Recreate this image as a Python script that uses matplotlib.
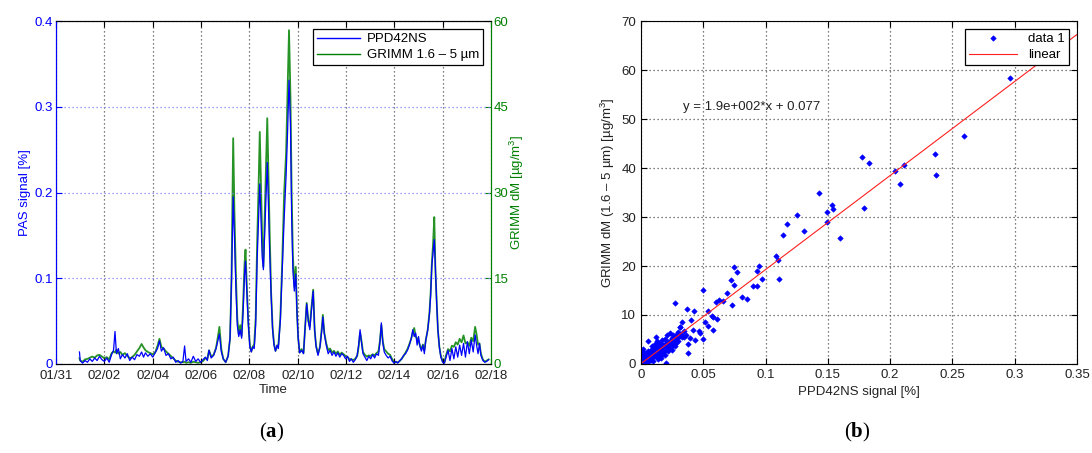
import numpy as np
import matplotlib
matplotlib.use("Agg")
import matplotlib.pyplot as plt
from matplotlib.lines import Line2D

plt.rcParams['font.family'] = ['Liberation Sans', 'DejaVu Sans']
plt.rcParams['mathtext.fontset'] = 'custom'
plt.rcParams['mathtext.rm'] = 'Liberation Sans'
plt.rcParams['mathtext.it'] = 'Liberation Sans:italic'
plt.rcParams['mathtext.bf'] = 'Liberation Serif:bold'

# ── Data: time series (days since 01/31 00:00) ─────────────────────────────
days = [0.97, 1.00, 1.10, 1.20, 1.30, 1.40, 1.50, 1.60, 1.70, 1.80, 1.90, 2.00,
        2.10, 2.20, 2.30, 2.38, 2.44, 2.50, 2.58, 2.66, 2.75, 2.85, 2.95, 3.05,
        3.15, 3.25, 3.35, 3.45, 3.54, 3.62, 3.70, 3.80, 3.90, 4.00, 4.10, 4.20,
        4.28, 4.36, 4.45, 4.55, 4.65, 4.75, 4.85, 4.95, 5.05, 5.15, 5.25, 5.32,
        5.38, 5.48, 5.58, 5.68, 5.78, 5.88, 5.98, 6.08, 6.18, 6.26, 6.33, 6.42,
        6.52, 6.62, 6.70, 6.76, 6.84, 6.92, 7.02, 7.12, 7.20, 7.26, 7.33, 7.38,
        7.44, 7.50, 7.56, 7.62, 7.68, 7.74, 7.80, 7.84, 7.90, 7.96, 8.02, 8.08,
        8.14, 8.20, 8.26, 8.32, 8.38, 8.43, 8.48, 8.53, 8.58, 8.63, 8.68, 8.74,
        8.79, 8.84, 8.90, 8.96, 9.02, 9.08, 9.14, 9.20, 9.28, 9.36, 9.44, 9.52,
        9.58, 9.64, 9.70, 9.75, 9.80, 9.86, 9.92, 9.97, 10.02, 10.08, 10.16, 10.24,
        10.30, 10.37, 10.44, 10.50, 10.56, 10.64, 10.70, 10.76, 10.84, 10.92, 11.00, 11.04,
        11.10, 11.18, 11.26, 11.34, 11.42, 11.50, 11.58, 11.66, 11.74, 11.82, 11.90, 11.98,
        12.06, 12.14, 12.22, 12.30, 12.38, 12.46, 12.52, 12.58, 12.64, 12.70, 12.78, 12.86,
        12.94, 13.02, 13.10, 13.18, 13.26, 13.34, 13.40, 13.46, 13.52, 13.58, 13.66, 13.74,
        13.82, 13.90, 13.98, 14.06, 14.14, 14.22, 14.30, 14.38, 14.46, 14.54, 14.62, 14.70,
        14.76, 14.82, 14.88, 14.94, 15.00, 15.06, 15.12, 15.18, 15.24, 15.30, 15.38, 15.45,
        15.50, 15.55, 15.60, 15.65, 15.70, 15.75, 15.80, 15.86, 15.92, 16.00, 16.07, 16.14,
        16.22, 16.30, 16.38, 16.46, 16.54, 16.62, 16.70, 16.78, 16.86, 16.94, 17.02, 17.10,
        17.18, 17.26, 17.34, 17.40, 17.46, 17.52, 17.58, 17.66, 17.74, 17.82, 17.90]

pas = [0.014, 0.004, 0.001, 0.004, 0.002, 0.006, 0.003, 0.007, 0.004, 0.009, 0.005, 0.003,
       0.007, 0.002, 0.011, 0.016, 0.038, 0.012, 0.018, 0.006, 0.011, 0.007, 0.012, 0.004,
       0.008, 0.005, 0.011, 0.009, 0.014, 0.008, 0.013, 0.009, 0.012, 0.008, 0.013, 0.018,
       0.027, 0.015, 0.019, 0.010, 0.012, 0.006, 0.008, 0.002, 0.004, 0.001, 0.003, 0.021,
       0.003, 0.006, 0.002, 0.009, 0.003, 0.006, 0.002, 0.005, 0.008, 0.004, 0.016, 0.007,
       0.010, 0.018, 0.028, 0.035, 0.014, 0.006, 0.002, 0.009, 0.030, 0.098, 0.195, 0.150,
       0.090, 0.045, 0.032, 0.040, 0.030, 0.060, 0.105, 0.120, 0.080, 0.045, 0.020, 0.014,
       0.020, 0.018, 0.045, 0.120, 0.170, 0.210, 0.170, 0.125, 0.110, 0.150, 0.190, 0.235,
       0.180, 0.130, 0.080, 0.040, 0.022, 0.015, 0.022, 0.018, 0.050, 0.110, 0.170, 0.220,
       0.270, 0.331, 0.280, 0.170, 0.110, 0.085, 0.105, 0.060, 0.030, 0.013, 0.016, 0.012,
       0.040, 0.070, 0.050, 0.040, 0.060, 0.085, 0.040, 0.020, 0.010, 0.020, 0.040, 0.055,
       0.035, 0.022, 0.012, 0.016, 0.010, 0.014, 0.009, 0.013, 0.008, 0.012, 0.010, 0.006,
       0.009, 0.003, 0.006, 0.002, 0.005, 0.010, 0.022, 0.040, 0.025, 0.012, 0.008, 0.004,
       0.009, 0.006, 0.011, 0.007, 0.012, 0.010, 0.025, 0.048, 0.025, 0.014, 0.010, 0.007,
       0.009, 0.004, 0.001, 0.003, 0.001, 0.004, 0.006, 0.010, 0.012, 0.016, 0.022, 0.030,
       0.040, 0.032, 0.036, 0.022, 0.032, 0.020, 0.015, 0.022, 0.012, 0.028, 0.040, 0.058,
       0.080, 0.115, 0.130, 0.145, 0.110, 0.070, 0.040, 0.020, 0.008, 0.002, 0.001, 0.008,
       0.016, 0.004, 0.018, 0.006, 0.020, 0.008, 0.022, 0.010, 0.024, 0.008, 0.026, 0.012,
       0.028, 0.014, 0.034, 0.022, 0.012, 0.024, 0.010, 0.004, 0.002, 0.003, 0.005]

grimm = [1.0, 0.6, 0.4, 0.8, 0.9, 1.1, 1.3, 1.1, 1.5, 1.6, 1.3, 1.0,
         1.2, 0.8, 1.9, 2.2, 2.0, 2.5, 1.8, 2.1, 1.6, 1.9, 1.4, 1.0,
         1.2, 1.6, 2.2, 2.8, 3.5, 2.9, 2.4, 2.1, 1.9, 1.7, 2.0, 3.2,
         4.4, 3.0, 2.7, 2.2, 1.8, 1.4, 1.0, 0.6, 0.4, 0.3, 0.3, 0.4,
         0.2, 0.3, 0.2, 0.4, 0.3, 0.2, 0.3, 0.5, 1.0, 0.9, 2.4, 1.3,
         1.6, 2.8, 4.8, 6.5, 2.6, 0.9, 0.3, 1.4, 4.5, 14.7, 39.5, 27.0,
         16.0, 8.0, 5.2, 6.8, 4.9, 10.5, 17.5, 20.0, 13.0, 7.0, 3.3, 2.2,
         3.0, 3.5, 8.0, 21.0, 31.0, 40.6, 31.0, 22.0, 17.0, 25.0, 33.0, 43.0,
         33.0, 23.0, 12.5, 6.5, 3.5, 2.3, 3.0, 3.4, 8.0, 18.0, 30.0, 37.0,
         48.0, 58.4, 46.7, 30.0, 19.0, 13.5, 17.0, 9.0, 4.5, 2.0, 2.6, 1.9,
         6.0, 10.7, 7.5, 6.5, 9.5, 13.0, 6.0, 3.2, 1.8, 3.0, 6.5, 8.6,
         5.5, 3.6, 2.4, 2.7, 2.0, 2.3, 1.8, 2.2, 1.6, 2.0, 1.7, 1.4,
         1.2, 0.9, 0.8, 0.7, 0.9, 1.4, 3.0, 5.5, 4.0, 2.1, 1.6, 1.3,
         1.5, 1.4, 1.7, 1.5, 1.9, 2.2, 4.0, 6.8, 4.0, 2.6, 2.2, 1.8,
         1.6, 0.9, 0.4, 0.3, 0.3, 0.5, 0.9, 1.4, 2.0, 2.6, 3.5, 4.5,
         5.5, 6.3, 4.8, 4.5, 4.0, 3.2, 2.6, 3.4, 2.4, 4.2, 6.0, 9.0,
         12.5, 17.7, 21.0, 25.7, 16.0, 11.0, 6.0, 3.0, 1.5, 0.4, 0.3, 1.6,
         2.6, 2.2, 3.2, 3.0, 3.8, 3.4, 4.4, 3.8, 5.0, 3.6, 3.8, 3.2,
         4.6, 4.0, 6.5, 5.2, 3.4, 3.6, 1.8, 0.8, 0.4, 0.6, 0.8]

date_ticks = [0, 2, 4, 6, 8, 10, 12, 14, 16, 18]
date_labels = ['01/31', '02/02', '02/04', '02/06', '02/08',
               '02/10', '02/12', '02/14', '02/16', '02/18']

# ── Data: scatter PPD42NS vs GRIMM ─────────────────────────────────────────
ppd = [0.296, 0.259, 0.236, 0.2365, 0.208, 0.211, 0.204, 0.177, 0.183, 0.179,
       0.160, 0.153, 0.154, 0.143, 0.1495, 0.149, 0.131, 0.125, 0.117, 0.114,
       0.108, 0.110, 0.111, 0.097, 0.0947, 0.0934, 0.0934, 0.090, 0.0853, 0.0808,
       0.0773, 0.075, 0.075, 0.072, 0.0728, 0.0688, 0.0655, 0.0629, 0.0602, 0.0613,
       0.058, 0.0567, 0.058, 0.0535, 0.050, 0.0514, 0.0535, 0.050, 0.0466, 0.047,
       0.0428, 0.042, 0.0401, 0.0433, 0.0393, 0.038, 0.038, 0.0367, 0.0345, 0.0326,
       0.0313, 0.0345, 0.036, 0.033, 0.032, 0.031, 0.031, 0.030, 0.030, 0.029,
       0.028, 0.028, 0.027, 0.027, 0.026, 0.026, 0.025, 0.025, 0.024, 0.024,
       0.023, 0.023, 0.022, 0.022, 0.021, 0.021, 0.020, 0.020, 0.020, 0.019,
       0.019, 0.018, 0.018, 0.017, 0.017, 0.016, 0.016, 0.015, 0.015, 0.015,
       0.014, 0.014, 0.013, 0.013, 0.013, 0.012, 0.012, 0.012, 0.011, 0.011,
       0.011, 0.010, 0.010, 0.010, 0.009, 0.009, 0.009, 0.008, 0.008, 0.008,
       0.007, 0.007, 0.006, 0.006, 0.006, 0.006, 0.005, 0.005, 0.004, 0.004,
       0.004, 0.003, 0.003, 0.003, 0.002, 0.002, 0.002, 0.001, 0.001, 0.0005,
       0.0019, 0.000, 0.018, 0.022, 0.025, 0.014, 0.019, 0.027, 0.009, 0.016]

dm = [58.3, 46.6, 42.9, 38.6, 36.7, 40.7, 39.4, 42.2, 41.1, 31.9,
      25.8, 32.4, 31.7, 34.9, 31.1, 29.0, 27.2, 30.5, 28.6, 26.4,
      22.0, 21.2, 17.3, 17.3, 19.9, 19.0, 16.0, 16.0, 13.3, 13.6,
      18.8, 19.7, 16.1, 17.1, 12.0, 14.4, 12.9, 13.1, 12.7, 9.2,
      9.5, 9.7, 6.9, 10.9, 15.2, 8.6, 7.8, 5.2, 6.7, 6.3,
      10.8, 6.9, 9.0, 4.9, 5.4, 2.3, 4.1, 11.2, 6.7, 8.5,
      7.6, 5.5, 5.9, 5.5, 6.2, 5.8, 7.6, 6.5, 4.7, 5.4,
      4.2, 6.0, 12.4, 5.0, 5.9, 4.6, 5.3, 4.1, 4.8, 3.5,
      6.3, 4.0, 4.5, 3.1, 3.7, 5.9, 0.3, 4.3, 2.9, 5.0,
      3.4, 2.4, 3.9, 4.9, 3.2, 2.6, 3.8, 3.0, 4.2, 1.7,
      3.6, 2.2, 1.4, 2.8, 4.6, 3.3, 2.1, 5.6, 2.5, 1.6,
      4.1, 1.9, 3.0, 0.7, 2.3, 1.2, 3.6, 0.9, 2.8, 1.6,
      1.5, 2.0, 1.1, 2.6, 0.4, 4.6, 0.8, 1.8, 0.3, 1.2,
      2.2, 0.6, 1.5, 0.0, 0.2, 1.0, 3.0, 0.5, 0.1, 1.8,
      2.5, 1.2, 2.0, 2.6, 2.9, 1.0, 1.8, 3.6, 2.4, 1.2]

fit_slope = 192.0
fit_intercept = 0.077
fit_x = [0.0, 0.35]

# ── Colours / styles ───────────────────────────────────────────────────────
BLUE = '#0000ff'
GREEN = '#008000'
TXT = '#222222'
DOT = (0, (1, 2.2))

fig = plt.figure(figsize=(10.92, 4.53), dpi=100)
fig.patch.set_facecolor('white')

# ── Panel (a): time series on two y-axes ──────────────────────────────────
ax1 = fig.add_axes([0.0513, 0.1965, 0.3984, 0.757])
ax2 = ax1.twinx()
ax1.set_zorder(ax2.get_zorder() + 1)
ax1.patch.set_visible(False)

ax2.plot(days, grimm, color=GREEN, linewidth=1.3, alpha=0.85)
ax1.plot(days, pas, color=BLUE, linewidth=0.9)

ax1.set_xlim(0, 18)
ax1.set_ylim(0, 0.4)
ax2.set_ylim(0, 60)

ax1.set_xticks(date_ticks)
ax1.set_xticklabels(date_labels)
ax1.set_yticks([0, 0.1, 0.2, 0.3, 0.4])
ax1.set_yticklabels(['0', '0.1', '0.2', '0.3', '0.4'])
ax2.set_yticks([0, 15, 30, 45, 60])

ax1.tick_params(axis='x', direction='in', top=True, labelsize=9.5, colors='black',
                labelcolor=TXT, length=4, pad=4)
ax1.tick_params(axis='y', direction='in', colors=BLUE, labelsize=9.5, length=4, pad=2)
ax2.tick_params(axis='y', direction='in', colors=GREEN, labelsize=9.5, length=4, pad=2)

ax1.xaxis.grid(True, linestyle=DOT, color='#555555', linewidth=0.9)
ax1.yaxis.grid(True, linestyle=DOT, color='#8080ff', linewidth=0.9)
ax1.set_axisbelow(True)

for ax in (ax1, ax2):
    ax.spines['left'].set_color(BLUE)
    ax.spines['right'].set_color(GREEN)
    ax.spines['top'].set_color('black')
    ax.spines['bottom'].set_color('black')

ax1.set_xlabel('Time', fontsize=9.5, color=TXT, labelpad=2)
ax1.set_ylabel('PAS signal [%]', fontsize=9.5, color=BLUE, labelpad=3)
ax2.set_ylabel(r'GRIMM dM [µg/m$^3$]', fontsize=9.5, color=GREEN, labelpad=-1)

handles = [Line2D([], [], color=BLUE, linewidth=1.0),
           Line2D([], [], color=GREEN, linewidth=1.0)]
leg = ax1.legend(handles, ['PPD42NS', 'GRIMM 1.6 – 5 µm'], loc='upper right',
                 fontsize=9.5, fancybox=False, edgecolor='black', framealpha=1,
                 handlelength=3.3, borderaxespad=0.6, borderpad=0.3,
                 labelspacing=0.3, handletextpad=0.5)
leg.get_frame().set_linewidth(0.9)

# ── Panel (b): scatter with linear fit ────────────────────────────────────
ax3 = fig.add_axes([0.587, 0.1965, 0.3993, 0.757])
ax3.plot(ppd, dm, linestyle='none', marker='D', markersize=2.8, color=BLUE,
         markeredgewidth=0.4, label='data 1')
fit_x_arr = np.array(fit_x)
ax3.plot(fit_x_arr, fit_slope * fit_x_arr + fit_intercept, color='#ff2020',
         linewidth=0.8, label='linear')

ax3.set_xlim(0, 0.35)
ax3.set_ylim(0, 70)
ax3.set_xticks([0, 0.05, 0.1, 0.15, 0.2, 0.25, 0.3, 0.35])
ax3.set_xticklabels(['0', '0.05', '0.1', '0.15', '0.2', '0.25', '0.3', '0.35'])
ax3.set_yticks([0, 10, 20, 30, 40, 50, 60, 70])
ax3.tick_params(direction='in', top=True, right=True, labelsize=9.5,
                labelcolor=TXT, length=4)
ax3.grid(True, linestyle=DOT, color='#555555', linewidth=0.9)
ax3.set_axisbelow(True)
ax3.set_xlabel('PPD42NS signal [%]', fontsize=9.5, color=TXT, labelpad=4)
ax3.set_ylabel(r'GRIMM dM (1.6 – 5 µm) [µg/m$^3$]', fontsize=9.5, color=TXT, labelpad=3)
ax3.text(0.0334, 52.4, 'y = 1.9e+002*x + 0.077', fontsize=9.5, color=TXT,
         va='center', ha='left')

leg3 = ax3.legend(loc='upper right', fontsize=9.5, fancybox=False, edgecolor='black',
                  framealpha=1, handlelength=3.6, borderaxespad=0.6, borderpad=0.3,
                  labelspacing=0.3, handletextpad=0.9, markerfirst=True)
leg3.get_frame().set_linewidth(0.9)

# ── Panel captions ────────────────────────────────────────────────────────
fig.text(272 / 1092, 1 - 432 / 453, r'($\mathbf{a}$)', fontsize=15,
         family='Liberation Serif', ha='center', va='center')
fig.text(857 / 1092, 1 - 432 / 453, r'($\mathbf{b}$)', fontsize=15,
         family='Liberation Serif', ha='center', va='center')

fig.savefig('out.png', dpi=100, facecolor='white')
